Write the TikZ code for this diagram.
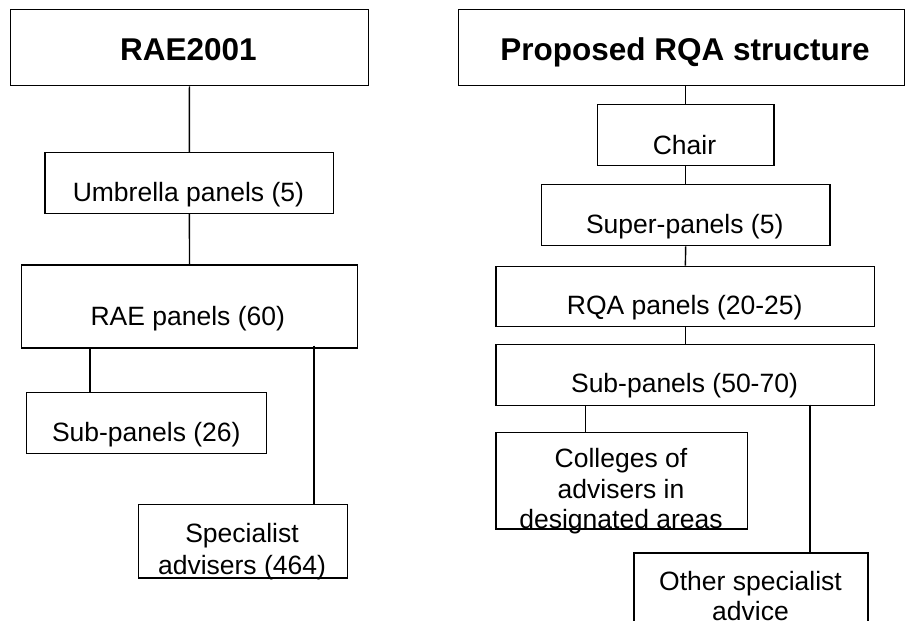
\documentclass[tikz,border=0pt]{standalone}
\usepackage{fontspec}
\setmainfont{Liberation Sans}
\begin{document}
\begin{tikzpicture}[x=1pt,y=-1pt,
  box/.style={draw,line width=1.4pt,inner sep=0pt,anchor=north west},
  txt/.style={anchor=base,inner sep=0pt,font=\fontsize{26.5}{31}\selectfont},
  ttl/.style={anchor=base,inner sep=0pt,font=\fontsize{31.5}{36}\selectfont\bfseries},
  conn/.style={line width=1.4pt}]
\clip (0,0) rectangle (905,621);
\fill[white] (0,0) rectangle (905,621);
% left column boxes
\node[box,minimum width=358.5pt,minimum height=76pt] (rae) at (9.5,9) {};
\node[box,minimum width=288.7pt,minimum height=60.7pt] (umb) at (44.3,152) {};
\node[box,minimum width=336.3pt,minimum height=83pt] (raep) at (20.7,264.3) {};
\node[box,minimum width=240.3pt,minimum height=60.7pt] (subl) at (25.7,392) {};
\node[box,minimum width=209pt,minimum height=73.3pt] (spec) at (137.7,504) {};
% right column boxes
\node[box,minimum width=446.3pt,minimum height=76pt] (rqa) at (457.7,9) {};
\node[box,minimum width=176.6pt,minimum height=61pt] (chair) at (596.7,104) {};
\node[box,minimum width=288.6pt,minimum height=61pt] (super) at (540.7,184) {};
\node[box,minimum width=378.7pt,minimum height=60.3pt] (rqap) at (495.3,265.7) {};
\node[box,minimum width=378.7pt,minimum height=61pt] (subr) at (495.3,344) {};
\node[box,minimum width=251.4pt,minimum height=96.6pt] (coll) at (495.3,431.7) {};
\node[box,minimum width=234pt,minimum height=90pt] (other) at (633.3,552.3) {};
% texts
\node[ttl] (t1) at (188.5,60.5) {RAE2001};
\node[txt] (t2) at (188.4,201.5) {Umbrella panels (5)};
\node[txt] (t3) at (187.8,325) {RAE panels (60)};
\node[txt] (t4) at (146.3,441) {Sub-panels (26)};
\node[txt] (t5) at (242,542.7) {Specialist};
\node[txt] (t6) at (242,574.3) {advisers (464)};
\node[ttl] (t7) at (685,60.7) {Proposed RQA structure};
\node[txt] (t8) at (684.5,154) {Chair};
\node[txt] (t9) at (684.7,233.3) {Super-panels (5)};
\node[txt] (t10) at (684.7,314) {RQA panels (20-25)};
\node[txt] (t11) at (684.5,392.7) {Sub-panels (50-70)};
\node[txt] (t12) at (621,467.3) {Colleges of};
\node[txt] (t13) at (621,498.3) {advisers in};
\node[txt] (t14) at (621,528.3) {designated areas};
\node[txt] (t15) at (750.5,590) {Other specialist};
\node[txt] (t16) at (750.5,620.5) {advice};
% connectors left
\draw[conn] (rae.south) -- (umb.north);
\draw[conn] (umb.south) -- (raep.north);
\draw[conn] ([xshift=69.3pt]raep.south west) -- ([xshift=64.3pt]subl.north west);
\draw[conn] ([xshift=293.3pt,yshift=3pt]raep.south west) -- ([xshift=176.3pt]spec.north west);
% connectors right
\draw[conn] (chair.north |- rqa.south) -- (chair.north);
\draw[conn] (chair.south) -- (super.north);
\draw[conn] (super.south) -- (rqap.north);
\draw[conn] (rqap.south) -- (subr.north);
\draw[conn] ([xshift=90.4pt]subr.south west) -- ([xshift=90.4pt]coll.north west);
\draw[conn] ([xshift=314.7pt,yshift=1.7pt]subr.south west) -- ([xshift=176.7pt]other.north west);
\end{tikzpicture}
\end{document}
